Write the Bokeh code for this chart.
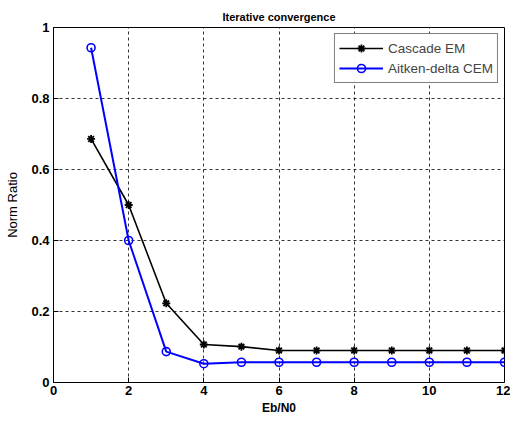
from bokeh.plotting import figure
from bokeh.models import FixedTicker, CustomJSTickFormatter, Legend, LegendItem, Range1d
from bokeh.embed import file_html
from bokeh.resources import INLINE

x_vals = [1, 2, 3, 4, 5, 6, 7, 8, 9, 10, 11, 12]
cascade_em = [0.686, 0.500, 0.223, 0.107, 0.101, 0.090, 0.090, 0.090, 0.090, 0.090, 0.090, 0.090]
aitken_cem = [0.943, 0.400, 0.087, 0.053, 0.057, 0.057, 0.057, 0.057, 0.057, 0.057, 0.057, 0.057]
x_ticks = [0, 2, 4, 6, 8, 10, 12]
y_ticks = [0, 0.2, 0.4, 0.6, 0.8, 1.0]

FONT = "Liberation Sans"

p = figure(width=510, height=420, output_backend="svg", toolbar_location=None,
           x_range=Range1d(0, 12), y_range=Range1d(0, 1),
           min_border_left=53, min_border_right=6, min_border_top=27, min_border_bottom=38)

p.title.text = "Iterative convergence"
p.title.align = "center"
p.title.text_font = FONT
p.title.text_font_size = "11px"
p.title.text_font_style = "bold"
p.title.text_color = "black"
p.title.standoff = 9

p.outline_line_color = "black"
p.outline_line_width = 1
p.background_fill_color = "white"
p.border_fill_color = "white"

for ax in [p.xaxis[0], p.yaxis[0]]:
    ax.major_tick_in = 5
    ax.major_tick_out = 0
    ax.minor_tick_in = 0
    ax.minor_tick_out = 0
    ax.axis_line_color = "black"
    ax.major_label_text_font = FONT
    ax.major_label_text_font_style = "bold"
    ax.major_label_text_font_size = "13px"
    ax.major_label_text_color = "black"
    ax.axis_label_text_font = FONT
    ax.axis_label_text_color = "black"

p.xaxis.ticker = FixedTicker(ticks=x_ticks)
p.yaxis.ticker = FixedTicker(ticks=y_ticks)
p.yaxis.formatter = CustomJSTickFormatter(code="return tick.toFixed(1).replace(/\\.0$/, '');")
p.xaxis.axis_label = "Eb/N0"
p.yaxis.axis_label = "Norm Ratio"
p.xaxis.axis_label_text_font_style = "bold"
p.xaxis.axis_label_text_font_size = "12px"
p.yaxis.axis_label_text_font_style = "normal"
p.yaxis.axis_label_text_font_size = "13px"
p.xaxis.axis_label_standoff = 3
p.yaxis.axis_label_standoff = 8
p.xaxis.major_label_standoff = 3
p.yaxis.major_label_standoff = 4

p.xgrid.ticker = FixedTicker(ticks=x_ticks)
p.ygrid.ticker = FixedTicker(ticks=y_ticks)
for g in [p.xgrid[0], p.ygrid[0]]:
    g.grid_line_color = "black"
    g.grid_line_dash = "3 3"
    g.grid_line_width = 1
    g.grid_line_alpha = 0.8

l1 = p.line(x_vals, cascade_em, line_color="black", line_width=1.6)
m1 = p.scatter(x_vals, cascade_em, marker="asterisk", size=8, line_color="black", line_width=1.8)
l2 = p.line(x_vals, aitken_cem, line_color="blue", line_width=2)
m2 = p.scatter(x_vals, aitken_cem, marker="circle", size=8, line_color="blue",
               fill_color=None, line_width=1.6)

legend = Legend(items=[LegendItem(label="Cascade EM", renderers=[l1, m1]),
                       LegendItem(label="Aitken-delta CEM", renderers=[l2, m2])],
                location="top_right")
legend.label_text_font = FONT
legend.label_text_font_size = "13.5px"
legend.border_line_color = "black"
legend.border_line_width = 1
legend.glyph_width = 44
legend.glyph_height = 20
legend.label_height = 20
legend.spacing = 0
legend.padding = 4
legend.margin = 6
legend.label_standoff = 5
p.add_layout(legend)

open("out.html", "w").write(file_html(p, INLINE))
